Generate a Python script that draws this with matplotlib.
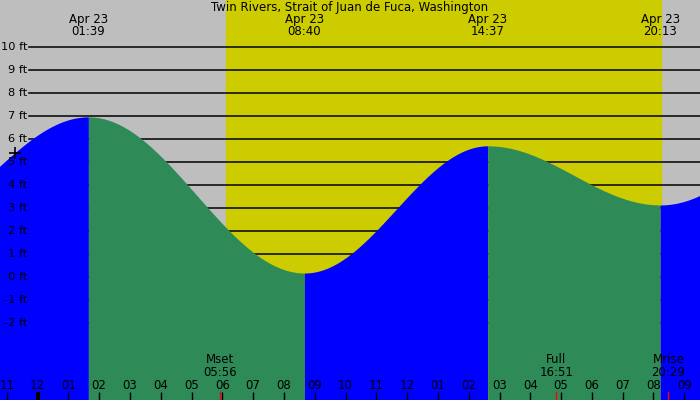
import numpy as np
import matplotlib.pyplot as plt

# Tide extremes (hours from midnight Apr 23, height in ft)
ext_hours = [-4.5, 1.65, 8.667, 14.617, 20.217, 26.3]
ext_heights = [2.2, 6.96, 0.17, 5.7, 3.13, 7.0]
ext_labels = ['01:39', '08:40', '14:37', '20:13']  # visible extremes
ext_date = 'Apr 23'

# Sun and moon
sunrise, sunset = 6.12, 20.24
moon_events = [(5.933, 'Mset', '05:56'), (16.85, 'Full', '16:51'), (20.483, 'Mrise', '20:29')]

# Axis ranges
x_lo, x_hi = -1.22, 21.51
y_lo, y_hi = -5.35, 12.04
ft_ticks = list(range(-2, 11))
hour_ticks = list(range(-1, 22))

title = 'Twin Rivers, Strait of Juan de Fuca, Washington'

gray = '#bebebe'
yellow = '#cccc00'
blue = '#0000ff'
green = '#2e8b57'

fig = plt.figure(figsize=(7, 4), dpi=100)
ax = fig.add_axes([0, 0, 1, 1])
ax.set_xlim(x_lo, x_hi)
ax.set_ylim(y_lo, y_hi)
ax.axis('off')

# sky background
ax.axvspan(x_lo, x_hi, color=gray, zorder=0)
ax.axvspan(sunrise, sunset, color=yellow, zorder=0.5)

# horizontal grid lines
for f in ft_ticks:
    ax.axhline(f, xmin=29 / 700, xmax=1, color='black', lw=1.1, zorder=1)

# tide curve, cosine between extremes
for i in range(len(ext_hours) - 1):
    t0, t1 = ext_hours[i], ext_hours[i + 1]
    h0, h1 = ext_heights[i], ext_heights[i + 1]
    t = np.linspace(t0, t1, 200)
    h = h0 + (h1 - h0) * (1 - np.cos(np.pi * (t - t0) / (t1 - t0))) / 2
    c = blue if h1 > h0 else green
    ax.fill_between(t, y_lo, h, color=c, lw=0, zorder=2)

# ft labels
for f in ft_ticks:
    ax.text(x_lo + 0.88, f, f'{f} ft', ha='right', va='center', fontsize=8.2, zorder=5)

# marker
ax.plot(-0.73, 5.4, marker='+', color='black', ms=9, mew=1.2, zorder=5)

# title and extreme labels
ax.text(0.5, 0.997, title, transform=ax.transAxes, ha='center', va='top', fontsize=8.5, zorder=5)
for t, lab in zip(ext_hours[1:-1], ext_labels):
    ax.text(t, 0.968, f'{ext_date}\n{lab}', transform=ax.get_xaxis_transform(),
            ha='center', va='top', fontsize=8.5, linespacing=0.95, zorder=5)

# hour ticks at bottom
tick_len = 0.02
for hr in hour_ticks:
    lbl = f'{(hr % 12) or 12:02d}'
    ax.text(hr, 0.02, lbl, transform=ax.get_xaxis_transform(), ha='center', va='bottom',
            fontsize=8.5, zorder=5)
    lw = 3 if hr % 24 == 0 else 1
    ax.plot([hr, hr], [0, tick_len], transform=ax.get_xaxis_transform(), color='black',
            lw=lw, zorder=5, solid_capstyle='butt')

# moon events
for t, name, tm in moon_events:
    ax.plot([t, t], [0, tick_len], transform=ax.get_xaxis_transform(), color='red', lw=1, zorder=5)
    ax.text(t, 0.053, f'{name}\n{tm}', transform=ax.get_xaxis_transform(), ha='center', va='bottom',
            fontsize=8.5, linespacing=0.95, zorder=5)

fig.savefig('out.png', dpi=100)
